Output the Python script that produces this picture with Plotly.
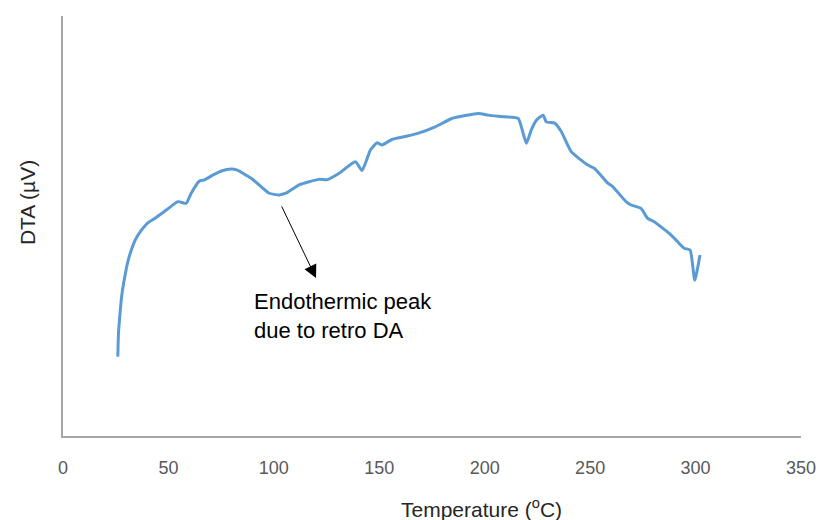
import plotly.graph_objects as go

# Temperature (°C)
temperature = [26.0, 26.2, 26.4, 26.9, 27.9, 29.3, 30.7, 32.4, 34.5, 37.2,
               40.1, 43.5, 49.0, 54.5, 58.4, 60.8,
               64.7, 67.1, 71.0, 75.1, 79.7, 82.7, 86.8, 89.7, 93.0, 97.8, 102.5, 105.7, 112.0,
               121.4, 125.3, 130.8, 138.7, 141.8, 145.8, 148.9, 151.3, 156.0, 162.3,
               168.6, 176.5, 184.4, 190.7, 197.0, 201.7, 209.6, 215.9, 218.2, 219.8,
               222.1, 224.5, 227.7, 229.2, 233.2, 236.3, 241.0, 248.9, 252.1, 258.4,
               260.7, 267.0, 269.4, 274.1, 277.3, 280.4, 288.3, 291.4, 294.6, 297.4,
               299.6, 302.1]
# DTA signal (arbitrary µV scale)
dta = [18.9, 22.9, 25.2, 28.4, 33.6, 37.9, 41.4, 44.3, 46.9, 49.0,
       50.7, 51.8, 53.8, 55.8, 55.4, 57.8,
       60.7, 61.0, 62.1, 63.1, 63.6, 63.3, 62.1, 61.2, 59.8, 57.8, 57.4, 57.8, 59.8,
       61.1, 61.0, 62.5, 65.3, 63.2, 68.1, 69.8, 69.3, 70.6, 71.3,
       72.1, 73.6, 75.6, 76.3, 76.8, 76.4, 76.0, 75.6, 72.1, 69.7,
       72.9, 75.2, 76.4, 74.8, 74.5, 72.5, 67.7, 64.5, 63.7, 60.2,
       59.4, 55.8, 55.0, 54.2, 51.8, 51.0, 47.9, 46.3, 44.7, 44.3,
       37.1, 43.1]

x_ticks = [0, 50, 100, 150, 200, 250, 300, 350]

fig = go.Figure()
fig.add_trace(go.Scatter(
    x=temperature, y=dta, mode="lines",
    line=dict(color="#5B9BD5", width=3, shape="spline", smoothing=0.5),
    showlegend=False, hoverinfo="skip",
))

fig.update_layout(
    width=828, height=520,
    margin=dict(l=63, r=24, t=16, b=84),
    paper_bgcolor="white", plot_bgcolor="white",
    font=dict(family="Liberation Sans, Arial, sans-serif"),
    xaxis=dict(
        range=[0, 350], tickvals=x_ticks, ticktext=[str(v) for v in x_ticks],
        showgrid=False, zeroline=False,
        showline=True, linecolor="#A6A6A6", linewidth=1.5,
        ticks="", ticklabelstandoff=15,
        tickfont=dict(size=18, color="#595959"),
    ),
    yaxis=dict(
        range=[0, 100], showticklabels=False, ticks="",
        showgrid=False, zeroline=False,
        showline=True, linecolor="#A6A6A6", linewidth=1.5,
    ),
    annotations=[
        dict(x=120.0, y=37.6, ax=103.4, ay=55.0, xref="x", yref="y",
             axref="x", ayref="y", text="", showarrow=True,
             arrowhead=2, arrowsize=2.6, arrowwidth=1, arrowcolor="#000000"),
        dict(x=89.7, y=28.6, xref="x", yref="y", xanchor="left", yanchor="middle",
             text="Endothermic peak<br>due to retro DA", showarrow=False, align="left",
             font=dict(size=22, color="#000000")),
        dict(x=0.567, y=-0.171, xref="paper", yref="paper", xanchor="center",
             yanchor="middle", text="Temperature (<sup>o</sup>C)", showarrow=False,
             font=dict(size=21, color="#262626")),
        dict(x=-0.0472, y=0.555, xref="paper", yref="paper", xanchor="center",
             yanchor="middle", text="DTA (µV)", textangle=-90, showarrow=False,
             font=dict(size=21, color="#262626")),
    ],
)

fig.write_html("out.html")
